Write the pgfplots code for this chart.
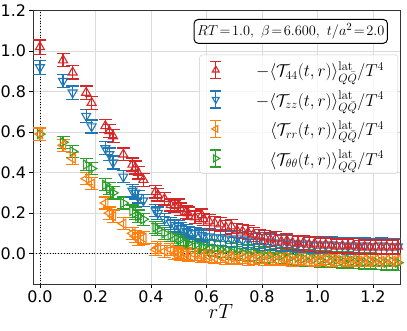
\documentclass[border=0pt]{standalone}
\usepackage{fontspec}
\usepackage{pgfplots}
\usepackage{pgfplotstable}
\pgfplotsset{compat=1.18}
\newfontfamily\dejavu{DejaVu Sans}
\definecolor{tabred}{HTML}{D62728}
\definecolor{tabblue}{HTML}{1F77B4}
\definecolor{taborange}{HTML}{FF7F0E}
\definecolor{tabgreen}{HTML}{2CA02C}

% columns: r, value, error
\pgfplotstableread{
r v e
0.0000 1.020 0.035
0.0833 0.955 0.033
0.1179 0.895 0.033
0.1667 0.795 0.033
0.1863 0.745 0.032
0.2357 0.630 0.032
0.2500 0.605 0.032
0.2635 0.580 0.032
0.3005 0.490 0.032
0.3333 0.440 0.032
0.3436 0.425 0.032
0.3536 0.400 0.032
0.3727 0.365 0.032
0.4167 0.305 0.030
0.4249 0.290 0.030
0.4488 0.270 0.030
0.4714 0.240 0.030
0.4859 0.235 0.030
0.5000 0.240 0.030
0.5069 0.220 0.030
0.5270 0.205 0.030
0.5336 0.200 0.030
0.5590 0.180 0.030
0.5833 0.190 0.030
0.5893 0.170 0.030
0.61 0.160 0.035
0.63 0.150 0.035
0.65 0.145 0.035
0.67 0.130 0.035
0.69 0.135 0.035
0.71 0.115 0.035
0.73 0.110 0.035
0.75 0.105 0.035
0.77 0.095 0.035
0.79 0.085 0.035
0.81 0.080 0.035
0.83 0.070 0.035
0.85 0.075 0.035
0.87 0.060 0.035
0.89 0.065 0.035
0.91 0.055 0.035
0.93 0.050 0.035
0.95 0.055 0.035
0.97 0.045 0.035
0.99 0.050 0.035
1.01 0.040 0.035
1.03 0.045 0.035
1.05 0.040 0.035
1.07 0.035 0.035
1.09 0.040 0.035
1.11 0.035 0.035
1.13 0.040 0.035
1.15 0.030 0.035
1.17 0.035 0.035
1.19 0.030 0.035
1.21 0.035 0.035
1.23 0.030 0.035
1.25 0.035 0.035
1.27 0.030 0.035
1.29 0.035 0.035
}\datfourfour

\pgfplotstableread{
r v e
0.0000 0.920 0.035
0.0833 0.852 0.033
0.1179 0.795 0.033
0.1667 0.680 0.032
0.1863 0.628 0.032
0.2357 0.520 0.032
0.2500 0.490 0.032
0.2635 0.450 0.032
0.3005 0.380 0.030
0.3333 0.310 0.030
0.3436 0.300 0.030
0.3536 0.280 0.030
0.3727 0.262 0.030
0.4167 0.212 0.030
0.4249 0.200 0.030
0.4488 0.170 0.030
0.4714 0.150 0.030
0.4859 0.140 0.030
0.5000 0.135 0.030
0.5069 0.125 0.030
0.5270 0.112 0.030
0.5336 0.105 0.030
0.5590 0.100 0.030
0.5833 0.092 0.030
0.5893 0.085 0.030
0.61 0.085 0.040
0.63 0.080 0.040
0.65 0.080 0.040
0.67 0.075 0.040
0.69 0.070 0.040
0.71 0.075 0.040
0.73 0.065 0.040
0.75 0.070 0.040
0.77 0.060 0.040
0.79 0.065 0.040
0.81 0.055 0.040
0.83 0.060 0.040
0.85 0.055 0.040
0.87 0.050 0.040
0.89 0.055 0.040
0.91 0.050 0.040
0.93 0.045 0.040
0.95 0.050 0.040
0.97 0.045 0.040
0.99 0.040 0.040
1.01 0.045 0.040
1.03 0.040 0.040
1.05 0.045 0.040
1.07 0.040 0.040
1.09 0.040 0.040
1.11 0.035 0.040
1.13 0.040 0.040
1.15 0.035 0.040
1.17 0.040 0.040
1.19 0.035 0.040
1.21 0.035 0.040
1.23 0.040 0.040
1.25 0.035 0.040
1.27 0.035 0.040
1.29 0.035 0.040
}\datzz

\pgfplotstableread{
r v e
0.0000 0.590 0.030
0.0833 0.535 0.030
0.1179 0.470 0.030
0.1667 0.370 0.030
0.1863 0.345 0.030
0.2357 0.250 0.030
0.2500 0.200 0.030
0.2635 0.185 0.030
0.3005 0.148 0.030
0.3333 0.100 0.030
0.3436 0.085 0.030
0.3536 0.072 0.030
0.3727 0.078 0.030
0.4167 0.020 0.030
0.4249 0.030 0.030
0.4488 0.012 0.030
0.4714 0.020 0.030
0.4859 0.000 0.030
0.5000 0.005 0.030
0.5069 -0.005 0.030
0.5270 0.000 0.030
0.5336 -0.010 0.030
0.5590 -0.005 0.030
0.5833 -0.015 0.030
0.5893 -0.010 0.030
0.61 -0.015 0.030
0.63 -0.020 0.030
0.65 -0.015 0.030
0.67 -0.025 0.030
0.69 -0.020 0.030
0.71 -0.025 0.030
0.73 -0.020 0.030
0.75 -0.030 0.030
0.77 -0.025 0.030
0.79 -0.020 0.030
0.81 -0.030 0.030
0.83 -0.025 0.030
0.85 -0.030 0.030
0.87 -0.025 0.030
0.89 -0.030 0.030
0.91 -0.035 0.030
0.93 -0.025 0.030
0.95 -0.030 0.030
0.97 -0.030 0.030
0.99 -0.035 0.030
1.01 -0.030 0.030
1.03 -0.025 0.030
1.05 -0.035 0.030
1.07 -0.030 0.030
1.09 -0.030 0.030
1.11 -0.035 0.030
1.13 -0.030 0.030
1.15 -0.035 0.030
1.17 -0.030 0.030
1.19 -0.035 0.030
1.21 -0.030 0.030
1.23 -0.035 0.030
1.25 -0.030 0.030
1.27 -0.035 0.030
1.29 -0.030 0.030
}\datrr

\pgfplotstableread{
r v e
0.0000 0.590 0.030
0.0833 0.550 0.030
0.1179 0.505 0.030
0.1667 0.440 0.030
0.1863 0.420 0.030
0.2357 0.340 0.030
0.2500 0.320 0.030
0.2635 0.300 0.030
0.3005 0.250 0.030
0.3333 0.210 0.030
0.3436 0.200 0.030
0.3536 0.185 0.030
0.3727 0.170 0.030
0.4167 0.130 0.030
0.4249 0.120 0.030
0.4488 0.100 0.030
0.4714 0.090 0.030
0.4859 0.080 0.030
0.5000 0.072 0.030
0.5069 0.068 0.030
0.5270 0.058 0.030
0.5336 0.050 0.030
0.5590 0.042 0.030
0.5833 0.032 0.030
0.5893 0.035 0.030
0.61 0.030 0.040
0.63 0.025 0.040
0.65 0.020 0.040
0.67 0.020 0.040
0.69 0.010 0.040
0.71 0.015 0.040
0.73 0.005 0.040
0.75 0.000 0.040
0.77 0.005 0.040
0.79 -0.005 0.040
0.81 -0.010 0.040
0.83 -0.005 0.040
0.85 -0.015 0.040
0.87 -0.010 0.040
0.89 -0.020 0.040
0.91 -0.015 0.040
0.93 -0.020 0.040
0.95 -0.025 0.040
0.97 -0.020 0.040
0.99 -0.025 0.040
1.01 -0.030 0.040
1.03 -0.025 0.040
1.05 -0.030 0.040
1.07 -0.030 0.040
1.09 -0.035 0.040
1.11 -0.030 0.040
1.13 -0.035 0.040
1.15 -0.035 0.040
1.17 -0.040 0.040
1.19 -0.035 0.040
1.21 -0.040 0.040
1.23 -0.040 0.040
1.25 -0.045 0.040
1.27 -0.040 0.040
1.29 -0.045 0.040
}\datthth

\pgfplotsset{
  errplot/.style={
    color=#1, only marks, mark=triangle, line width=1.1bp,
    mark size=5.2bp,
    error bars/y dir=both, error bars/y explicit,
    error bars/error bar style={color=#1, line width=1.2bp},
    error bars/error mark options={color=#1, line width=1.2bp,
      mark size=6.5bp, rotate=90},
    legend image code/.code={
      \draw[#1, line width=1.3bp] (0bp,-8.5bp) -- (0bp,8.5bp)
        (-5.5bp,-8.5bp) -- (5.5bp,-8.5bp) (-5.5bp,8.5bp) -- (5.5bp,8.5bp);
      \draw[mark=triangle, only marks, ##1, mark size=4bp] plot coordinates {(0bp,0bp)};
    },
  },
}

\begin{document}
\begin{tikzpicture}
\useasboundingbox (-33bp,-47bp) rectangle (374bp,284bp);
\begin{axis}[
  at={(0,0)}, anchor=south west,
  scale only axis, width=367.7bp, height=273.4bp,
  xmin=-0.025, xmax=1.3, ymin=-0.15, ymax=1.2,
  xtick={0,0.2,0.4,0.6,0.8,1.0,1.2},
  xticklabels={0.0,0.2,0.4,0.6,0.8,1.0,1.2},
  ytick={0,0.2,0.4,0.6,0.8,1.0,1.2},
  yticklabels={0.0,0.2,0.4,0.6,0.8,1.0,1.2},
  ticklabel style={font=\dejavu\fontsize{16}{16}\selectfont},
  tick align=outside, major tick length=3.5bp,
  xtick pos=bottom, ytick pos=left,
  tick style={black, line width=0.8bp},
  axis line style={line width=0.8bp, black!80},
  grid=major, grid style={black!14, line width=0.8bp},
  xlabel={$rT$},
  xlabel style={font=\fontsize{22}{22}\selectfont, yshift=6bp, xshift=4bp},
  clip=true,
  reverse legend,
  legend cell align=right,
  legend style={at={(0.993,0.839)}, anchor=north east,
    draw=black!20, rounded corners=3bp, fill=white, fill opacity=0.8,
    text opacity=1, font=\fontsize{18}{20}\selectfont,
    row sep=11bp, inner xsep=10bp, inner ysep=6bp,
    nodes={inner xsep=4bp, inner ysep=1bp},
    /tikz/every odd column/.append style={column sep=30bp}},
]
\addplot[forget plot, black, dotted, line width=0.8bp] coordinates {(0,-0.15) (0,1.2)};
\addplot[forget plot, black, dotted, line width=0.8bp] coordinates {(-0.025,0) (1.3,0)};

\addplot[errplot=tabgreen, mark options={solid, fill=none, rotate=-90}]
  table[x=r, y=v, y error=e] {\datthth};
\addlegendentry{$\langle\mathcal{T}_{\theta\theta}(t,r)\rangle^{\mathrm{lat}}_{Q\bar{Q}}/T^4$}
\addplot[errplot=taborange, mark options={solid, fill=none, rotate=90}]
  table[x=r, y=v, y error=e] {\datrr};
\addlegendentry{$\langle\mathcal{T}_{rr}(t,r)\rangle^{\mathrm{lat}}_{Q\bar{Q}}/T^4$}
\addplot[errplot=tabblue, mark options={solid, fill=none, rotate=180}]
  table[x=r, y=v, y error=e] {\datzz};
\addlegendentry{$-\langle\mathcal{T}_{zz}(t,r)\rangle^{\mathrm{lat}}_{Q\bar{Q}}/T^4$}
\addplot[errplot=tabred, mark options={solid, fill=none}]
  table[x=r, y=v, y error=e] {\datfourfour};
\addlegendentry{$-\langle\mathcal{T}_{44}(t,r)\rangle^{\mathrm{lat}}_{Q\bar{Q}}/T^4$}

\node[draw, rounded corners=4bp, line width=1bp, fill=white, inner xsep=3bp,
  inner ysep=4bp, font=\fontsize{15.5}{15.5}\selectfont]
  at (rel axis cs:0.701,0.924)
  {$RT\!=\!1.0,\ \beta\!=\!6.600,\ t/a^2\!=\!2.0$};
\end{axis}
\end{tikzpicture}
\end{document}
